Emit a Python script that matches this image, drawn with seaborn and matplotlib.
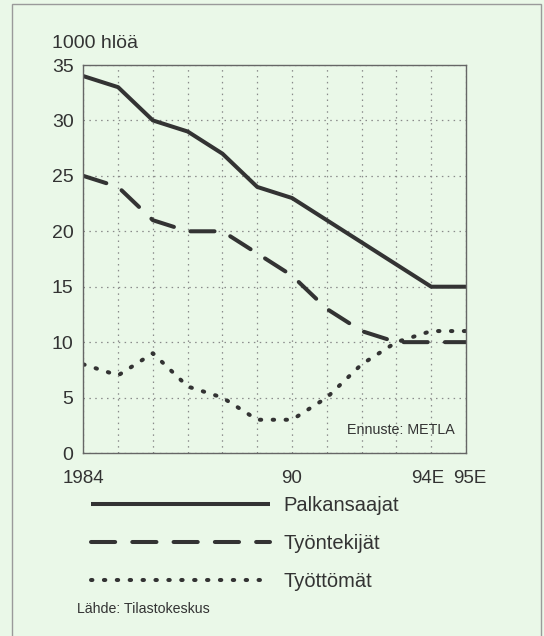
import matplotlib
matplotlib.use("Agg")
import matplotlib.pyplot as plt
import matplotlib.transforms as mtransforms
import seaborn as sns
import pandas as pd
from matplotlib.patches import Rectangle

years = [1984, 1985, 1986, 1987, 1988, 1989, 1990, 1991, 1992, 1993, 1994, 1995]
palkansaajat = [34, 33, 30, 29, 27, 24, 23, 21, 19, 17, 15, 15]
tyontekijat = [25, 24, 21, 20, 20, 18, 16, 13, 11, 10, 10, 10]
tyottomat = [8, 7, 9, 6, 5, 3, 3, 5, 8, 10, 11, 11]
series_names = ["Palkansaajat", "Työntekijät", "Työttömät"]
xtick_labels = {1984: "1984", 1990: "90", 1994: "94E", 1995: "95E"}
yticks = [0, 5, 10, 15, 20, 25, 30, 35]

sns.set_theme(style="white")
plt.rcParams["font.family"] = ["Liberation Sans", "DejaVu Sans"]

BG = "#eaf8e8"
LC = "#333333"
W, H = 544, 636
fig = plt.figure(figsize=(W / 100, H / 100), dpi=100, facecolor=BG)
ax = fig.add_axes([83.3 / W, 1 - 453 / H, (466 - 83.3) / W, (453 - 65) / H])
ax.set_facecolor(BG)

df = pd.DataFrame({"year": years, series_names[0]: palkansaajat,
                   series_names[1]: tyontekijat, series_names[2]: tyottomat})

lw = 2.9
styles = ["-", (0, (6, 4.25)), (0, (0.35, 2.85))]
for name, ls in zip(series_names, styles):
    sns.lineplot(data=df, x="year", y=name, ax=ax, color=LC, lw=lw,
                 linestyle=ls, label=name, legend=False)
for ln in ax.get_lines()[:3]:
    ln.set_dash_capstyle("round")
    ln.set_solid_capstyle("butt")

ax.set_xlim(1984, 1995)
ax.set_ylim(0, 35)
ax.set_xticks(years)
ax.set_xticklabels([xtick_labels.get(y, "") for y in years])
ax.set_yticks(yticks)
ax.set_yticklabels([str(v) for v in yticks])
ax.set_xlabel("")
ax.set_ylabel("")

for s in ax.spines.values():
    s.set_visible(True)
    s.set_color("#666666")
    s.set_linewidth(1.0)

ax.grid(True, color="#8a8a8a", linestyle=(0, (1.2, 3.5)), linewidth=0.9)
ax.tick_params(axis="x", direction="inout", length=9, width=1.0, color="#666666",
               pad=8, labelsize=13.5, labelcolor="#333333")
ax.tick_params(axis="y", direction="out", length=5, width=1.0, color="#666666",
               pad=2, labelsize=14, labelcolor="#333333")

# nudge the two close forecast labels apart as in the original
for lab in ax.get_xticklabels():
    txt = lab.get_text()
    if txt == "94E":
        lab.set_transform(lab.get_transform() + mtransforms.ScaledTranslation(-3 / 100, 0, fig.dpi_scale_trans))
    elif txt == "95E":
        lab.set_transform(lab.get_transform() + mtransforms.ScaledTranslation(4 / 100, 0, fig.dpi_scale_trans))

fig.text(52 / W, 1 - 48 / H, "1000 hlöä", fontsize=14, color="#333333",
         ha="left", va="baseline")
ax.text(455 / W, 1 - 434 / H, "Ennuste: METLA", transform=fig.transFigure,
        fontsize=10.3, color="#333333", ha="right", va="baseline")
fig.text(77 / W, 1 - 613 / H, "Lähde: Tilastokeskus", fontsize=10.2,
         color="#333333", ha="left", va="baseline")

handles = ax.get_lines()[:3]
leg = fig.legend(handles, series_names, loc="upper left",
                 bbox_to_anchor=(91 / W, 1 - 496 / H), frameon=False,
                 fontsize=14.5, handlelength=8.9, handletextpad=0.65,
                 labelspacing=0.95, borderpad=0, borderaxespad=0)
for t in leg.get_texts():
    t.set_color("#333333")

fig.add_artist(Rectangle((12 / W, -0.01), (541 - 12) / W, 1 - 4 / H + 0.01,
                         transform=fig.transFigure, fill=False,
                         edgecolor="#9a9a9a", linewidth=1.0))

fig.savefig("out.png", dpi=100, facecolor=BG)
